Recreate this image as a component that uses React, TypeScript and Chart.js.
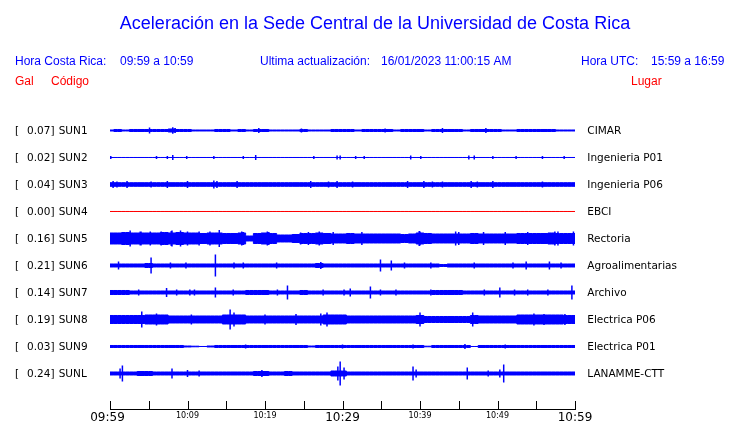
import { useEffect, useRef } from "react";
import { Chart, registerables } from "chart.js";

Chart.register(...registerables);

const TITLE = "Aceleración en la Sede Central de la Universidad de Costa Rica";
const LOCAL_LABEL = "Hora Costa Rica:";
const LOCAL_RANGE = "09:59 a 10:59";
const UPDATE_LABEL = "Ultima actualización:";
const UPDATE_VALUE = "16/01/2023 11:00:15 AM";
const UTC_LABEL = "Hora UTC:";
const UTC_RANGE = "15:59 a 16:59";
const HEAD_GAL = "Gal";
const HEAD_CODE = "Código";
const HEAD_PLACE = "Lugar";

const CODES = ["SUN1", "SUN2", "SUN3", "SUN4", "SUN5", "SUN6", "SUN7", "SUN8", "SUN9", "SUNL"];
const GAL = [0.07, 0.02, 0.04, 0.0, 0.16, 0.21, 0.14, 0.19, 0.03, 0.24];
const PLACES = [
  "CIMAR",
  "Ingenieria P01",
  "Ingenieria P06",
  "EBCI",
  "Rectoria",
  "Agroalimentarias",
  "Archivo",
  "Electrica P06",
  "Electrica P01",
  "LANAMME-CTT",
];

// time axis (minutes after 09:59)
const TICK_MINUTES = [0, 10, 20, 30, 40, 50, 60];
const TICK_LABELS = ["09:59", "10:09", "10:19", "10:29", "10:39", "10:49", "10:59"];
const MAJOR_LABELS = ["09:59", "10:29", "10:59"];
const MINOR_TICK_MINUTES = [5, 15, 25, 35, 45, 55];

// per-minute envelope half-amplitudes (counts; 27 counts = one trace spacing)
const ENV_SUN1 = [1, 1.5, 1, 1.5, 1.5, 1.5, 1.5, 1.5, 2, 1.5, 1.5, 1, 1, 1, 1.5, 1.5, 1, 1.5, 1, 1.5, 1.5, 1, 1, 1, 1, 1.5, 1, 1, 1, 1.5, 1.5, 1.5, 1, 1.5, 1.5, 1.5, 1.5, 1, 1.5, 1.5, 1.5, 1, 1.5, 1.5, 1.5, 1.5, 1, 1.5, 1.5, 1.5, 1.5, 1, 1, 1.5, 1.5, 1.5, 1.5, 1.5, 1, 1, 1];
const ENV_SUN2 = [0.5, 0.5, 0.5, 0.5, 0.5, 0.5, 0.5, 0.5, 0.5, 0.5, 0.5, 0.5, 0.5, 0.5, 0.5, 0.5, 0.5, 0.5, 0.5, 0.5, 0.5, 0.5, 0.5, 0.5, 0.5, 0.5, 0.5, 0.5, 0.5, 0.5, 0.5, 0.5, 0.5, 0.5, 0.5, 0.5, 0.5, 0.5, 0.5, 0.5, 0.5, 0.5, 0.5, 0.5, 0.5, 0.5, 0.5, 0.5, 0.5, 0.5, 0.5, 0.5, 0.5, 0.5, 0.5, 0.5, 0.5, 0.5, 0.5, 0.5, 0.5];
const ENV_SUN3 = [2.3, 2.3, 2.3, 2.3, 2.3, 2.3, 2.3, 2.3, 2.3, 2.3, 2.3, 2.3, 2.3, 2.3, 2.3, 2.3, 2.3, 2.3, 2.3, 2.3, 2.3, 2.3, 2.3, 2.3, 2.3, 2.3, 2.3, 2.3, 2.3, 2.3, 2.3, 2.3, 2.3, 2.3, 2.3, 2.3, 2.3, 2.3, 2.3, 2.3, 2.3, 2.3, 2.3, 2.3, 2.3, 2.3, 2.3, 2.3, 2.3, 2.3, 2.3, 2.3, 2.3, 2.3, 2.3, 2.3, 2.3, 2.3, 2.3, 2.3, 2.3];
const ENV_SUN4 = [0, 0, 0, 0, 0, 0, 0, 0, 0, 0, 0, 0, 0, 0, 0, 0, 0, 0, 0, 0, 0, 0, 0, 0, 0, 0, 0, 0, 0, 0, 0, 0, 0, 0, 0, 0, 0, 0, 0, 0, 0, 0, 0, 0, 0, 0, 0, 0, 0, 0, 0, 0, 0, 0, 0, 0, 0, 0, 0, 0, 0];
const ENV_SUN5 = [6, 6, 6.5, 6, 6, 6, 6, 6.5, 6, 6.5, 6, 6, 5.5, 6, 6, 5.5, 5.5, 6, 3, 5.5, 6, 5.5, 4, 4, 4.5, 5.5, 5.5, 6, 5.5, 5, 5, 5.5, 5, 5, 5, 5, 5, 5, 4.5, 5, 6, 5.5, 5, 5, 5, 5, 5, 5.5, 5, 5, 5, 5, 5, 5.5, 5.5, 5.5, 5.5, 6, 5.5, 5.5, 5.5];
const ENV_SUN6 = [2, 2, 2, 2, 2, 2.5, 2, 2, 2, 2, 2, 2, 2, 2, 2, 2, 2, 2, 2, 2, 2, 2, 2, 2, 2, 2, 2, 2.5, 2, 2, 2, 2, 2, 2, 2, 2, 2, 2, 2, 2, 2, 2, 2, 1.5, 2, 2, 2, 2, 2, 2, 2, 2, 2, 2, 2, 2, 2, 2, 2, 2, 2];
const ENV_SUN7 = [2.5, 2.5, 2.5, 2, 2, 2, 2, 2, 2, 2, 2, 2, 2, 2, 2, 2, 2, 2, 2.5, 2.5, 2.5, 2, 2, 2, 2, 2.5, 2, 2, 2, 2, 2, 2, 2, 2, 2, 2, 2, 2, 2, 2, 2, 2, 2.5, 2.5, 2.5, 2.5, 2, 2, 2, 2, 2, 2, 2, 2, 2, 2, 2, 2, 2, 2, 2];
const ENV_SUN8 = [4.5, 4.5, 4.5, 4.5, 4.5, 5, 5, 5, 4, 4, 4, 4, 4, 4, 4, 5, 5, 5, 4, 4, 4, 4, 4, 4, 4, 4, 4, 4, 5, 5, 5, 4, 4, 4, 4, 4, 4, 4, 4, 4, 4.5, 3.5, 3.5, 3.5, 3.5, 3.5, 3.5, 4.5, 4, 4, 4, 4, 4, 5, 5, 5, 5, 5, 5, 4.5, 4.5];
const ENV_SUN9 = [1.5, 1.5, 1.5, 1.5, 1.5, 1.5, 1.5, 1.5, 1.5, 1.5, 1, 0.8, 0.5, 1, 1.5, 1.5, 1.5, 1.5, 1.5, 1.5, 1.5, 1.5, 1.5, 1.5, 1.5, 1.5, 1, 1.5, 1.5, 1.5, 1.5, 1.5, 1.5, 1.5, 1.5, 1.5, 1.5, 1.5, 1.5, 1.5, 1.5, 0.8, 1.5, 1.5, 1.5, 1.5, 1.5, 0.5, 1.5, 1.5, 1.5, 1.5, 1.5, 1.5, 1.5, 1.5, 1.5, 1.5, 1.5, 1.5, 1.5];
const ENV_SUNL = [2, 2, 2, 2, 2.5, 2.5, 2, 2, 2, 2, 2, 2, 2, 2, 2, 2, 2, 2, 2, 2.5, 2.5, 2, 2, 2.5, 2, 2, 2, 2, 2, 3, 3, 2, 2, 2, 2, 2, 2, 2, 2, 2, 2, 2, 2, 2, 2, 2, 2, 2, 2, 2, 2, 2, 2, 2, 2, 2, 2, 2, 2, 2, 2];

// isolated peaks: [minute, half-amplitude in counts]
const SPK_SUN1 = [[5.1, 3], [8.1, 3.2], [8.4, 2.5], [19.2, 2.5], [24.7, 2], [35.5, 2], [42.9, 2.5], [48.5, 2.5]];
const SPK_SUN2 = [[0.1, 1.5], [6.0, 1.5], [7.4, 1.5], [8.1, 2.5], [9.9, 1.5], [13.4, 1.5], [17.2, 1.5], [18.8, 2.5], [26.3, 1.5], [29.3, 2], [29.7, 2], [31.7, 1.5], [32.8, 1.5], [38.8, 2], [40.1, 1.5], [46.3, 2], [47.0, 2], [49.4, 1.5], [52.4, 1.5], [55.8, 1.5], [58.6, 1.5]];
const SPK_SUN3 = [[0.4, 3.5], [0.9, 3], [2.2, 3.5], [5.3, 3], [7.4, 3.5], [10, 3.5], [13.4, 4], [13.8, 3.5], [16.4, 3.5], [25.9, 3.5], [28.2, 3], [29.3, 3.5], [31.3, 3], [38.4, 3.5], [40.5, 3.5], [41.6, 3], [42.9, 3], [46.6, 3.5], [47.4, 3], [49.4, 3.5], [55.8, 3]];
const SPK_SUN4: number[][] = [];
const SPK_SUN5 = [[2.6, 8], [3.9, 7], [4.0, 7], [5.2, 7], [6.6, 7], [7.9, 7.5], [8, 8], [9.1, 8], [10, 7], [11.5, 7], [12.9, 7], [14.1, 8.5], [17, 7], [17.2, 6.5], [20.3, 7], [20.5, 6.5], [24.6, 6], [25.6, 6.5], [27, 7], [28.8, 6.5], [32.5, 6.5], [39.9, 7.5], [40, 7], [44.6, 7], [45, 6.5], [48.2, 6.5], [51, 6.5], [53.9, 6.5], [57.4, 7], [57.8, 7], [59.8, 7]];
const SPK_SUN6 = [[1.1, 4], [5.3, 8], [7.8, 3], [9.8, 3], [13.6, 11], [16, 3], [17.2, 3], [21.5, 3], [27.2, 3.5], [34.9, 6], [36.3, 5], [38, 3], [41.4, 3], [47, 3], [52, 3], [53.7, 4], [56.7, 4], [58.2, 3]];
const SPK_SUN7 = [[3.7, 3], [7.3, 4.5], [8.6, 3], [10.3, 3], [10.9, 3], [13.6, 5], [15.9, 3], [21.6, 3], [22.9, 7], [27.5, 3], [30.2, 3], [31, 4], [33.6, 6], [34.9, 3], [36.9, 3], [41.4, 3], [48.3, 3], [50.3, 5], [52.2, 3], [53.9, 3], [56.5, 3], [59.6, 7]];
const SPK_SUN8 = [[4.1, 8], [6, 6], [10.5, 5], [15.5, 10], [16, 7], [20, 5], [24, 5.5], [27.2, 6], [28, 7], [40, 7], [46.8, 7], [54.7, 6], [56, 5.5], [58.7, 5.5]];
const SPK_SUN9 = [[17.5, 2], [30, 2], [39.1, 2], [45.8, 2.5], [51, 2]];
const SPK_SUNL = [[1.3, 5], [1.6, 8], [8, 5], [10, 3.5], [11.5, 3], [19.6, 3.5], [29.4, 7], [29.7, 12], [30.2, 6], [39.1, 7], [39.5, 4], [46.1, 6], [48.8, 3], [50.3, 4], [50.8, 9]];

const ENVELOPES = [ENV_SUN1, ENV_SUN2, ENV_SUN3, ENV_SUN4, ENV_SUN5, ENV_SUN6, ENV_SUN7, ENV_SUN8, ENV_SUN9, ENV_SUNL];
const PEAKS = [SPK_SUN1, SPK_SUN2, SPK_SUN3, SPK_SUN4, SPK_SUN5, SPK_SUN6, SPK_SUN7, SPK_SUN8, SPK_SUN9, SPK_SUNL];
const DEAD = [false, false, false, true, false, false, false, false, false, false];

const COUNTS_PER_ROW = 27;
const BLUE = "#0000ff";
const RED = "#ff0000";

function buildDatasets() {
  const ds: any[] = [];
  CODES.forEach((_, k) => {
    const color = DEAD[k] ? RED : BLUE;
    const env = ENVELOPES[k];
    const half = (a: number) => Math.max(a - 0.5, 0) / COUNTS_PER_ROW;
    ds.push({
      data: env.map((a, m) => ({ x: m, y: k - half(a) })),
      borderColor: color,
      borderWidth: 1,
      pointRadius: 0,
      stepped: "middle",
      fill: false,
    });
    ds.push({
      data: env.map((a, m) => ({ x: m, y: k + half(a) })),
      borderColor: color,
      backgroundColor: color,
      borderWidth: 1,
      pointRadius: 0,
      stepped: "middle",
      fill: "-1",
    });
    const pts: any[] = [];
    PEAKS[k].forEach(([t, a]) => {
      pts.push({ x: t, y: k - a / COUNTS_PER_ROW }, { x: t, y: k + a / COUNTS_PER_ROW }, { x: t, y: null });
    });
    ds.push({
      data: pts,
      borderColor: color,
      borderWidth: 1.5,
      pointRadius: 0,
      spanGaps: false,
      fill: false,
    });
  });
  return ds;
}

const textPlugin = {
  id: "seismoText",
  afterDraw(chart: any) {
    const ctx = chart.ctx as CanvasRenderingContext2D;
    const xs = chart.scales.x;
    const ys = chart.scales.y;
    const area = chart.chartArea;
    ctx.save();
    // title
    ctx.fillStyle = BLUE;
    ctx.textAlign = "center";
    ctx.textBaseline = "alphabetic";
    ctx.font = '18px "Liberation Sans", Arial, sans-serif';
    ctx.fillText(TITLE, 375, 29);
    // header
    ctx.textAlign = "left";
    ctx.font = '12px "Liberation Sans", Arial, sans-serif';
    ctx.fillText(LOCAL_LABEL, 15, 65);
    ctx.fillText(LOCAL_RANGE, 120, 65);
    ctx.fillText(UPDATE_LABEL, 260, 65);
    ctx.fillText(UPDATE_VALUE, 381, 65);
    ctx.fillText(UTC_LABEL, 581, 65);
    ctx.fillText(UTC_RANGE, 651, 65);
    ctx.fillStyle = RED;
    ctx.fillText(HEAD_GAL, 15, 85);
    ctx.fillText(HEAD_CODE, 51, 85);
    ctx.fillText(HEAD_PLACE, 631, 85);
    // row labels
    ctx.fillStyle = "#000";
    ctx.font = '10.5px "DejaVu Sans", sans-serif';
    CODES.forEach((code, k) => {
      const y = ys.getPixelForValue(k) + 4;
      ctx.textAlign = "left";
      ctx.fillText("[", 15, y);
      ctx.textAlign = "right";
      ctx.fillText(GAL[k].toFixed(2) + "]", 54.5, y);
      ctx.textAlign = "left";
      ctx.fillText(code, 58.7, y);
      ctx.fillText(PLACES[k], 587.3, y);
    });
    // time axis
    const yb = Math.round(area.bottom) + 0.5;
    ctx.strokeStyle = "#000";
    ctx.lineWidth = 1;
    ctx.beginPath();
    ctx.moveTo(Math.round(xs.getPixelForValue(0)), yb);
    ctx.lineTo(Math.round(xs.getPixelForValue(60)) + 1, yb);
    [...TICK_MINUTES, ...MINOR_TICK_MINUTES].forEach((m) => {
      const px = Math.round(xs.getPixelForValue(m)) + 0.5;
      ctx.moveTo(px, yb);
      ctx.lineTo(px, yb - 8.5);
    });
    ctx.stroke();
    ctx.fillStyle = "#000";
    ctx.textAlign = "center";
    TICK_MINUTES.forEach((m, i) => {
      const lab = TICK_LABELS[i];
      const px = xs.getPixelForValue(m);
      if (MAJOR_LABELS.includes(lab)) {
        ctx.font = '12px "DejaVu Sans", sans-serif';
        ctx.fillText(lab, i === 0 ? px - 2.5 : px, 421);
      } else {
        ctx.font = '8px "DejaVu Sans", sans-serif';
        ctx.fillText(lab, px, 418);
      }
    });
    ctx.restore();
  },
};

export default function App() {
  const ref = useRef<HTMLCanvasElement | null>(null);
  useEffect(() => {
    if (!ref.current) return;
    const chart = new Chart(ref.current, {
      type: "line",
      data: { datasets: buildDatasets() },
      options: {
        animation: false,
        responsive: false,
        maintainAspectRatio: false,
        devicePixelRatio: 1,
        layout: { padding: { left: 110, right: 165, top: 117, bottom: 14 } },
        plugins: { legend: { display: false }, tooltip: { enabled: false } },
        scales: {
          x: { type: "linear", min: 0, max: 60, display: false },
          y: { type: "linear", min: -0.5, max: 10.315, reverse: true, display: false },
        },
        elements: { point: { radius: 0 }, line: { tension: 0 } },
      },
      plugins: [textPlugin],
    } as any);
    return () => chart.destroy();
  }, []);
  return (
    <div style={{ position: "absolute", left: 0, top: 0, width: 740, height: 423, background: "#fff" }}>
      <canvas ref={ref} width={740} height={423} />
    </div>
  );
}
